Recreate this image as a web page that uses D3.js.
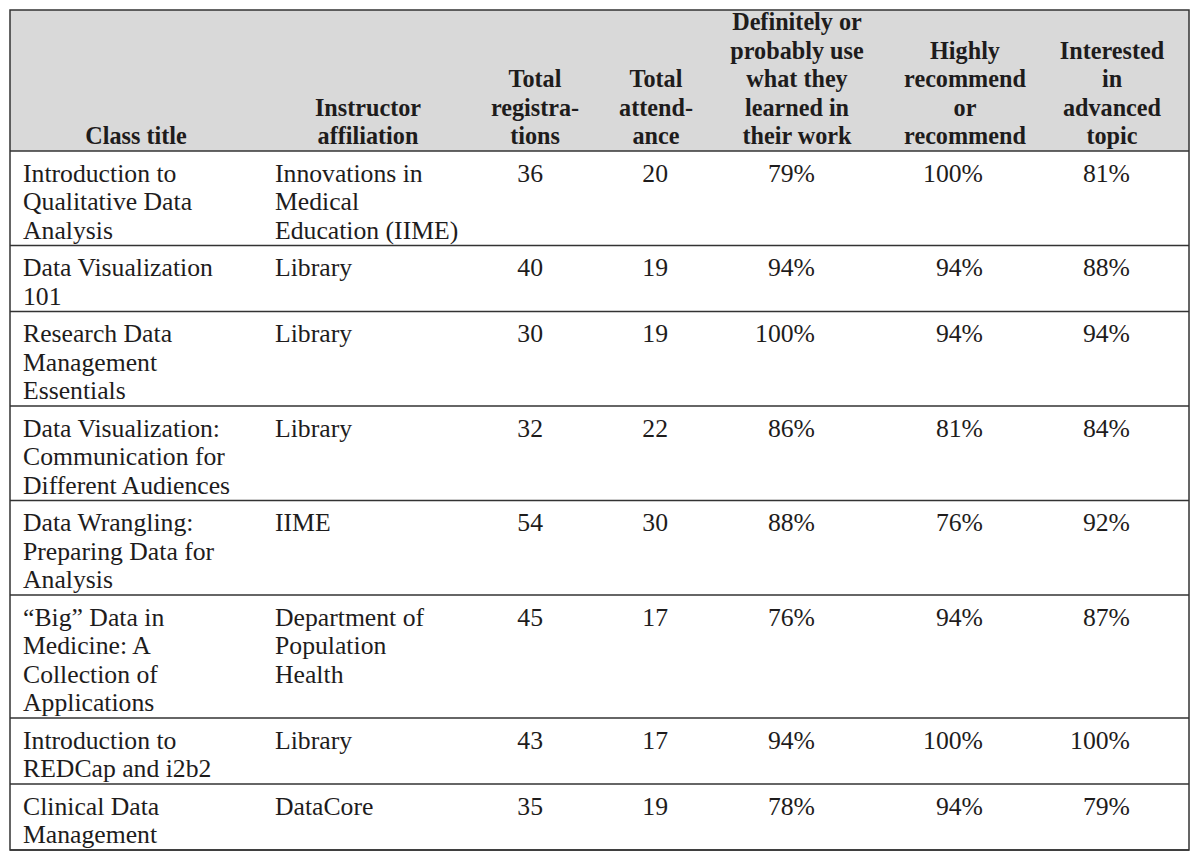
<!DOCTYPE html>
<html>
<head>
<meta charset="utf-8">
<script src="https://cdn.jsdelivr.net/npm/d3@7"></script>
<style>
  html, body { margin: 0; padding: 0; background: #fff; }
  svg text { font-family: "Liberation Serif", "DejaVu Serif", serif; fill: #1e1c1c; }
</style>
</head>
<body>
<svg id="container" width="1200" height="861"></svg>
<script>
// table content
const headers = [
  ["Class title"],
  ["Instructor", "affiliation"],
  ["Total", "registra-", "tions"],
  ["Total", "attend-", "ance"],
  ["Definitely or", "probably use", "what they", "learned in", "their work"],
  ["Highly", "recommend", "or", "recommend"],
  ["Interested", "in", "advanced", "topic"]
];

const classTitles = [
  ["Introduction to", "Qualitative Data", "Analysis"],
  ["Data Visualization", "101"],
  ["Research Data", "Management", "Essentials"],
  ["Data Visualization:", "Communication for", "Different Audiences"],
  ["Data Wrangling:", "Preparing Data for", "Analysis"],
  ["\u201cBig\u201d Data in", "Medicine: A", "Collection of", "Applications"],
  ["Introduction to", "REDCap and i2b2"],
  ["Clinical Data", "Management"]
];

const affiliations = [
  ["Innovations in", "Medical", "Education (IIME)"],
  ["Library"],
  ["Library"],
  ["Library"],
  ["IIME"],
  ["Department of", "Population", "Health"],
  ["Library"],
  ["DataCore"]
];

const registrations = [36, 40, 30, 32, 54, 45, 43, 35];
const attendance    = [20, 19, 19, 22, 30, 17, 17, 19];
const useInWork     = [79, 94, 100, 86, 88, 76, 94, 78];
const recommend     = [100, 94, 94, 81, 76, 94, 100, 94];
const advanced      = [81, 88, 94, 84, 92, 87, 100, 79];

const svg = d3.select('#container');

const tLeft = 10, tRight = 1189, tTop = 10, headBottom = 151;
const lineH = 28.5, rowPad = 9;
const bodySize = 25.7, headSize = 24.2;

// header centres for each column
const headX = [136, 368, 535, 656, 797, 965, 1112];
// anchors for body cells: left-aligned text columns, right-aligned numbers
const cellX = [23, 275, 543, 668, 815, 983, 1130];

const fmtPct = v => v + "%";
const rows = classTitles.map((t, i) => ({
  cells: [
    t,
    affiliations[i],
    [String(registrations[i])],
    [String(attendance[i])],
    [fmtPct(useInWork[i])],
    [fmtPct(recommend[i])],
    [fmtPct(advanced[i])]
  ]
}));

rows.forEach(r => {
  r.lines = d3.max(r.cells, c => c.length);
  r.h = rowPad + lineH * r.lines;
});
const tops = [headBottom, ...d3.cumsum(rows, r => r.h).map(v => headBottom + v)];
rows.forEach((r, i) => { r.y0 = tops[i]; r.y1 = tops[i + 1]; });
const tBottom = tops[tops.length - 1];

// header background
svg.append('rect')
  .attr('x', tLeft).attr('y', tTop)
  .attr('width', tRight - tLeft).attr('height', headBottom - tTop)
  .attr('fill', '#d9d9d9');

// header text, bottom aligned
const head = svg.append('g').attr('font-weight', 'bold').attr('font-size', headSize);
headers.forEach((lines, c) => {
  const n = lines.length;
  head.selectAll(null)
    .data(lines)
    .join('text')
    .attr('text-anchor', 'middle')
    .attr('x', headX[c])
    .attr('y', (d, k) => headBottom - 7 - (n - 1 - k) * lineH)
    .text(d => d);
});

// body text
const body = svg.append('g').attr('font-size', bodySize);
rows.forEach(r => {
  r.cells.forEach((lines, c) => {
    body.selectAll(null)
      .data(lines)
      .join('text')
      .attr('text-anchor', c < 2 ? 'start' : 'end')
      .attr('x', cellX[c])
      .attr('y', (d, k) => r.y0 + 30.5 + k * lineH)
      .text(d => d);
  });
});

// row rules
svg.append('g')
  .selectAll('line')
  .data(tops)
  .join('line')
  .attr('x1', tLeft).attr('x2', tRight)
  .attr('y1', d => d).attr('y2', d => d)
  .attr('stroke', '#333')
  .attr('stroke-width', 1.5);

// outer border
svg.append('rect')
  .attr('x', tLeft).attr('y', tTop)
  .attr('width', tRight - tLeft).attr('height', tBottom - tTop)
  .attr('fill', 'none')
  .attr('stroke', '#333')
  .attr('stroke-width', 1.5);
</script>
</body>
</html>
